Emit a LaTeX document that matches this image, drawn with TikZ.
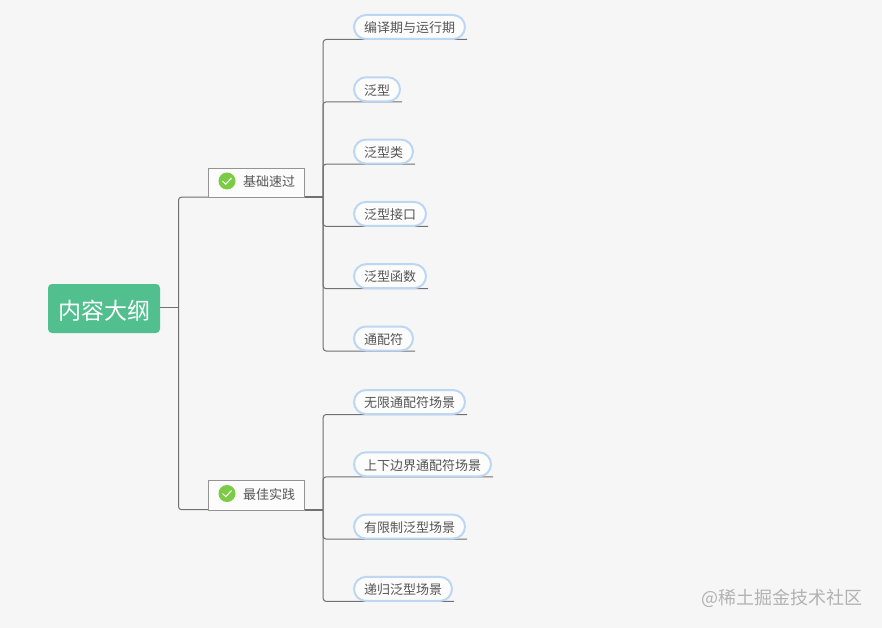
\documentclass[tikz,border=0pt]{standalone}
\usepackage{fontspec}
\setmainfont{Noto Sans CJK SC}
\usetikzlibrary{positioning, backgrounds}
\definecolor{pagegray}{HTML}{F6F6F6}
\definecolor{rootgreen}{HTML}{52BF8E}
\definecolor{pillblue}{HTML}{BCD7F3}
\definecolor{linegray}{HTML}{707070}
\definecolor{textgray}{HTML}{555555}
\definecolor{okgreen}{HTML}{7CCB44}

\begin{document}
\begin{tikzpicture}[
    x=1pt,
    y=-1pt,
    root/.style={
        fill=rootgreen,
        rounded corners=4pt,
        minimum width=112pt,
        minimum height=49pt,
        inner sep=0pt,
        text height=25pt,
        text depth=2.4pt,
        text=white,
        font=\fontsize{23pt}{23pt}\selectfont
    },
    branch/.style={
        draw=black!42,
        fill=white!70!pagegray,
        line width=0.8pt,
        minimum width=96.5pt,
        minimum height=29.5pt,
        inner sep=0pt,
        text height=9.5pt,
        text depth=2pt,
        text=textgray,
        font=\fontsize{13pt}{13pt}\selectfont,
        execute at begin node={\hspace*{25pt}}
    },
    leaf/.style={
        draw=pillblue,
        fill=white!70!pagegray,
        line width=2pt,
        rounded corners=12pt,
        minimum height=24pt,
        inner xsep=10pt,
        inner ysep=0pt,
        text height=13pt,
        text depth=1.5pt,
        text=textgray,
        font=\fontsize{13pt}{13pt}\selectfont
    },
    okmark/.style={
        circle,
        fill=okgreen,
        minimum size=17pt,
        inner sep=0pt,
        path picture={
            \draw[white, line width=1pt] (-4.5,0) -- (-1.2,3.2) -- (4.5,-3);
        }
    },
    link/.style={draw=linegray, line width=1pt, rounded corners=3pt},
    stem/.style={draw=linegray, line width=1.7pt},
    below leaf/.style={below right=36.3pt and 0pt of #1.south west}
]
\node[root] (outline) at (104,308.5) {内容大纲};

\node[branch] (basics) at (256.5,183) {基础速过};
\node[branch] (practice) at (256.5,495.5) {最佳实践};
\node[okmark] (basicsok) at (227,181) {};
\node[okmark] (practiceok) at (227,493.5) {};

\node[leaf, anchor=west] (compile) at (353,27) {编译期与运行期};
\node[leaf, below leaf=compile] (generic) {泛型};
\node[leaf, below leaf=generic] (genclass) {泛型类};
\node[leaf, below leaf=genclass] (genface) {泛型接口};
\node[leaf, below leaf=genface] (genfunc) {泛型函数};
\node[leaf, below leaf=genfunc] (wildcard) {通配符};

\node[leaf, anchor=west] (unbound) at (353,402) {无限通配符场景};
\node[leaf, below leaf=unbound] (bounds) {上下边界通配符场景};
\node[leaf, below leaf=bounds] (limited) {有限制泛型场景};
\node[leaf, below leaf=limited] (recursive) {递归泛型场景};

\node[text=black!30, font=\fontsize{18pt}{18pt}\selectfont, anchor=east, inner sep=0pt] (mark) at (863,598) {@稀土掘金技术社区};

\coordinate (outlinejoint) at (178.5,307);
\coordinate (basicsjoint) at ([xshift=18pt, yshift=1pt]basics.south east);
\coordinate (practicejoint) at ([xshift=18pt, yshift=1pt]practice.south east);

\begin{scope}[on background layer]
\fill[pagegray] (0,0) rectangle (882,628);

\draw[link] (outline.east |- outlinejoint) -- (outlinejoint);
\draw[link] (outlinejoint) |- ([yshift=1pt]basics.south west);
\draw[link] (outlinejoint) |- ([yshift=1pt]practice.south west);

\draw[stem] ([yshift=1pt]basics.south east) -- (basicsjoint);
\draw[stem] ([yshift=1pt]practice.south east) -- (practicejoint);

\foreach \leafname in {compile, generic, genclass, genface, genfunc, wildcard}
    \draw[link] (basicsjoint) |- ([xshift=1pt, yshift=0.5pt]\leafname.south east);
\foreach \leafname in {unbound, bounds, limited, recursive}
    \draw[link] (practicejoint) |- ([xshift=1pt, yshift=0.5pt]\leafname.south east);
\end{scope}
\useasboundingbox (0,0) rectangle (882,628);
\end{tikzpicture}
\end{document}
